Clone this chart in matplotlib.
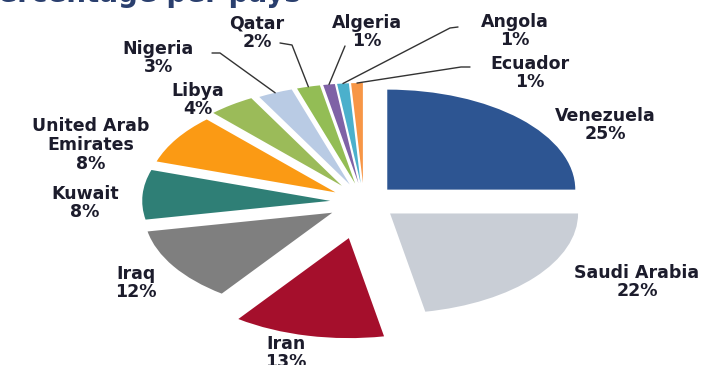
import numpy as np
import matplotlib.pyplot as plt

countries = ["Venezuela", "Saudi Arabia", "Iran", "Iraq", "Kuwait",
             "United Arab\nEmirates", "Libya", "Nigeria", "Qatar",
             "Algeria", "Angola", "Ecuador"]
shares = [25, 22, 13, 12, 8, 8, 4, 3, 2, 1, 1, 1]
colors = ["#2d5592", "#c9ced6", "#a50f2c", "#7f7f7f", "#2f7f76", "#fb9a14",
          "#9bbb59", "#b9cbe4", "#93bd55", "#7f62a6", "#4bb0cc", "#f79646"]
explode = [0.175, 0.18, 0.37, 0.2, 0.18, 0.18, 0.2, 0.19, 0.19, 0.19, 0.19, 0.19]

# pie centre and radii in pixels (the chart is stretched horizontally)
CX, CY, RX, RY = 364, 202, 188, 100
W, H = 724, 365


def px(x, y):
    return (x - CX) / RX, (CY - y) / RY


fig = plt.figure(figsize=(W / 100, H / 100), dpi=100)
ax = fig.add_axes([0, 0, 1, 1])
wedges, _ = ax.pie(shares, colors=colors, explode=explode, startangle=90,
                   counterclock=False, radius=1,
                   wedgeprops=dict(linewidth=0))
ax.set_aspect("auto")
ax.set_xlim(px(0, 0)[0], px(W, 0)[0])
ax.set_ylim(px(0, H)[1], px(0, 0)[1])
ax.axis("off")

text_kw = dict(ha="center", va="center", fontsize=12.5, fontweight="bold",
               color="#1c1c2c", linespacing=1.05)

# label centres in pixels
label_pos = [(605, 125), (637, 282), (286, 353), (136, 283), (85, 203),
             (91, 145), (198, 100), (158, 58), (257, 33), (367, 32),
             (515, 31), (530, 73)]
for name, val, (lx, ly) in zip(countries, shares, label_pos):
    ax.text(*px(lx, ly), f"{name}\n{val}%", **text_kw)

# leader lines for the thin slices: label anchor, elbow, then slice edge
leaders = {7: [(212, 53), (220, 53)],
           8: [(280, 43), (292, 45)],
           9: [(345, 46)],
           10: [(458, 27), (450, 28)],
           11: [(470, 67), (461, 67)]}
for i, pts in leaders.items():
    w = wedges[i]
    mid = np.deg2rad((w.theta1 + w.theta2) / 2)
    ex = w.center[0] + w.r * np.cos(mid)
    ey = w.center[1] + w.r * np.sin(mid)
    xs = [px(*p)[0] for p in pts] + [ex]
    ys = [px(*p)[1] for p in pts] + [ey]
    ax.plot(xs, ys, color="#333333", lw=1.0, solid_capstyle="round")

# heading, mostly above the top edge
ax.text(*px(-22, 2), "Percentage per pays", ha="left", va="baseline",
        fontsize=20, fontweight="bold", color="#2a3f6e")

fig.savefig("out.png", dpi=100)
